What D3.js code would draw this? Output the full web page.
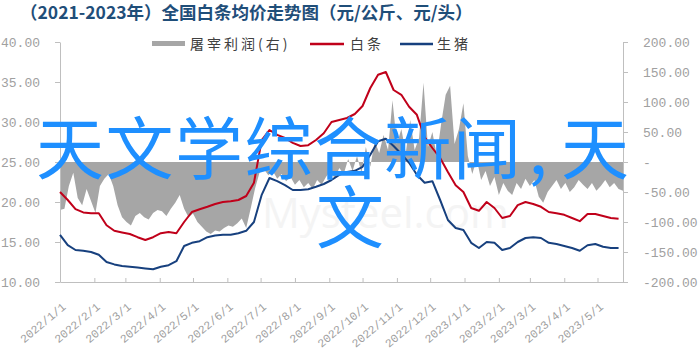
<!DOCTYPE html>
<html>
<head>
<meta charset="utf-8">
<script src="https://cdn.jsdelivr.net/npm/d3@7"></script>
<style>
  html, body { margin: 0; padding: 0; background: #fff; }
  svg { display: block; }
  .num { font-family: "Liberation Mono", "DejaVu Sans Mono", monospace; fill: #a0a0a0; }
  .cjk { font-family: "Noto Sans CJK SC", sans-serif; }
</style>
</head>
<body>
<svg width="700" height="351"></svg>
<script>
// ---- data ----
const titleText = "（2021-2023年）全国白条均价走势图（元/公斤、元/头）";
const legendLabels = ["屠宰利润(右)", "白条", "生猪"];
const overlayLine1 = ["天文学综合新闻", ",", "天"];
const overlayLine2 = "文";
const leftTicks = [10, 15, 20, 25, 30, 35, 40];
const rightTicks = [-200, -150, -100, -50, 0, 50, 100, 150, 200];
const monthLabels = ["2022/1/1", "2022/2/1", "2022/3/1", "2022/4/1", "2022/5/1", "2022/6/1",
  "2022/7/1", "2022/8/1", "2022/9/1", "2022/10/1", "2022/11/1", "2022/12/1",
  "2023/1/1", "2023/2/1", "2023/3/1", "2023/4/1", "2023/5/1"];
const startDate = "2022/1/1";
const endDate = "2023/5/24";

// weekly samples (元/公斤), starting 2022/1/1
const baitiao = [21.25, 20.25, 19.1, 18.7, 18.6, 18.6, 17.1, 16.4, 16.2, 16.0,
  15.6, 15.25, 15.6, 16.1, 16.25, 16.1, 17.5, 18.75, 19.1, 19.4,
  19.75, 20.0, 20.1, 20.25, 20.75, 22.4, 27.75, 29.0, 28.4, 28.0,
  27.4, 27.0, 27.1, 27.75, 28.6, 30.0, 30.25, 30.5, 31.0, 32.0,
  34.25, 35.9, 36.25, 34.0, 33.4, 31.9, 30.9, 28.1, 26.75, 25.5,
  23.75, 22.1, 21.25, 19.25, 18.9, 20.0, 19.25, 18.0, 18.25, 19.6,
  20.0, 19.75, 19.4, 18.75, 18.6, 18.4, 18.0, 17.6, 18.5, 18.5,
  18.25, 18.0, 17.9];
const shengzhu = [15.9, 14.6, 14.0, 13.9, 13.75, 13.4, 12.5, 12.2, 12.0, 11.9,
  11.8, 11.7, 11.6, 11.9, 12.1, 12.6, 14.5, 14.9, 15.1, 15.6,
  15.8, 15.9, 15.9, 16.1, 16.4, 17.5, 20.9, 23.0, 22.6, 22.1,
  21.5, 21.5, 21.6, 21.9, 22.25, 22.75, 23.4, 23.75, 23.9, 24.4,
  25.9, 27.6, 27.9, 27.0, 26.0, 24.9, 23.4, 22.4, 22.6, 20.25,
  17.75, 16.75, 16.5, 14.9, 14.25, 15.0, 14.9, 14.0, 14.25, 15.0,
  15.5, 15.6, 15.5, 14.9, 14.75, 14.5, 14.25, 13.9, 14.6, 14.75,
  14.4, 14.25, 14.25];
// samples every 4 days (元/头), starting 2022/1/1
const profit = [-80, -78, -40, -18, -60, -72, -45, -65, -85, -40,
  -28, -20, -40, -72, -92, -100, -106, -90, -85, -92,
  -96, -85, -80, -82, -90, -78, -68, -55, -78, -92,
  -86, -100, -108, -116, -120, -114, -116, -110, -106, -108,
  -102, -94, -110, -78, -44, -18, -12, -22, -15, -28,
  -20, -32, -25, -38, -30, -42, -35, -45, -30, -38,
  -25, -15, -28, -10, -20, 5, -15, 10, -18, 25,
  -8, 35, 15, 45, 20, 103, 30, 55, 15, 70,
  20, 40, 132, 25, 50, 10, 65, 112, 127, 30,
  55, 98, 10, -20, 5, -30, -15, -40, -25, -55,
  -35, -48, -55, -35, -45, -28, -40, -30, -58, -68,
  -50, -40, -30, -45, -35, -50, -42, -30, -38, -45,
  -35, -48, -40, -30, -42, -35, -45, -48];

document.addEventListener("DOMContentLoaded", function() {
  const svg = d3.select("svg"),
        margin = {top: 42, right: 77, bottom: 69, left: 60},
        width = +svg.attr("width") - margin.left - margin.right,
        height = +svg.attr("height") - margin.top - margin.bottom;

  const parseDate = d3.timeParse("%Y/%m/%d");
  const t0 = parseDate(startDate);

  const x = d3.scaleTime()
              .domain([t0, parseDate(endDate)])
              .range([margin.left, margin.left + width]);
  const yL = d3.scaleLinear().domain([10, 40]).range([margin.top + height, margin.top]);
  const yR = d3.scaleLinear().domain([-200, 200]).range([margin.top + height, margin.top]);

  const weekly = arr => arr.map((v, i) => ({date: d3.timeDay.offset(t0, i * 7), value: v}));
  const redData = weekly(baitiao);
  const blueData = weekly(shengzhu);
  const profitData = profit.map((v, i) => ({date: d3.timeDay.offset(t0, i * 4), value: v}));

  // faint watermark
  svg.append("text")
     .attr("x", 262).attr("y", 228)
     .attr("font-family", "Open Sans, sans-serif")
     .attr("font-size", 42)
     .attr("fill", "#f4f4f4")
     .text("Mysteel.com");

  // profit area (right axis)
  const area = d3.area()
                 .x(d => x(d.date))
                 .y0(yR(0))
                 .y1(d => yR(d.value));
  svg.append("path")
     .datum(profitData)
     .attr("fill", "#a6a6a6")
     .attr("d", area);

  // axes
  const axisColor = "#bfbfbf";
  const styleAxis = g => {
    g.select(".domain").attr("stroke", axisColor);
    g.selectAll(".tick line").attr("stroke", axisColor);
    g.selectAll("text").attr("class", "num").attr("font-size", 13).attr("fill", null);
  };

  svg.append("g")
     .attr("transform", `translate(${margin.left},0)`)
     .call(d3.axisLeft(yL).tickValues(leftTicks).tickFormat(d => d.toFixed(2))
             .tickSize(5).tickSizeOuter(0).tickPadding(15))
     .call(styleAxis);

  svg.append("g")
     .attr("transform", `translate(${margin.left + width},0)`)
     .call(d3.axisRight(yR).tickValues(rightTicks)
             .tickFormat(d => d === 0 ? "-" : d.toFixed(2))
             .tickSize(5).tickSizeOuter(0).tickPadding(15))
     .call(styleAxis);

  const xAxis = svg.append("g")
     .attr("transform", `translate(0,${margin.top + height})`)
     .call(d3.axisBottom(x).tickValues(monthLabels.map(parseDate))
             .tickFormat((d, i) => monthLabels[i])
             .tickSize(-4).tickSizeOuter(0))
     .call(styleAxis);
  xAxis.selectAll("text")
       .attr("font-size", 11.5)
       .attr("text-anchor", "end")
       .attr("x", 0).attr("y", 0).attr("dy", 0)
       .attr("transform", "translate(6,26) rotate(-40)");

  // lines
  const line = d3.line()
                 .x(d => x(d.date))
                 .y(d => yL(d.value));
  svg.append("path")
     .datum(redData)
     .attr("fill", "none")
     .attr("stroke", "#c0001a")
     .attr("stroke-width", 2)
     .attr("stroke-linejoin", "round")
     .attr("d", line);
  svg.append("path")
     .datum(blueData)
     .attr("fill", "none")
     .attr("stroke", "#17407e")
     .attr("stroke-width", 2)
     .attr("stroke-linejoin", "round")
     .attr("d", line);

  // legend
  const legend = svg.append("g").attr("class", "cjk").attr("font-size", 14).attr("fill", "#404040");
  legend.append("rect").attr("x", 152).attr("y", 41).attr("width", 33).attr("height", 5).attr("fill", "#a6a6a6");
  legend.append("text").attr("x", 190).attr("y", 49).attr("letter-spacing", 3).text(legendLabels[0]);
  legend.append("line").attr("x1", 310).attr("x2", 344).attr("y1", 44).attr("y2", 44)
        .attr("stroke", "#c0001a").attr("stroke-width", 2.5);
  legend.append("text").attr("x", 350).attr("y", 49).attr("letter-spacing", 3).text(legendLabels[1]);
  legend.append("line").attr("x1", 400).attr("x2", 433).attr("y1", 44).attr("y2", 44)
        .attr("stroke", "#17407e").attr("stroke-width", 2.5);
  legend.append("text").attr("x", 437).attr("y", 49).attr("letter-spacing", 3).text(legendLabels[2]);

  // title
  svg.append("text")
     .attr("class", "cjk")
     .attr("x", 20).attr("y", 19)
     .attr("font-size", 17.5)
     .attr("font-weight", "bold")
     .attr("fill", "#1f4e79")
     .text(titleText);

  // big overlay text
  const overlay = svg.append("g").attr("class", "cjk").attr("font-size", 68).attr("fill", "#1e8fff");
  const first = overlay.append("text").attr("x", 36).attr("y", 174).attr("letter-spacing", 1.5);
  first.append("tspan").text(overlayLine1[0]);
  first.append("tspan").attr("dx", 6).text(overlayLine1[1]);
  first.append("tspan").attr("dx", 12).text(overlayLine1[2]);
  overlay.append("text").attr("x", 350).attr("y", 243).attr("text-anchor", "middle").text(overlayLine2);
});
</script>
</body>
</html>
